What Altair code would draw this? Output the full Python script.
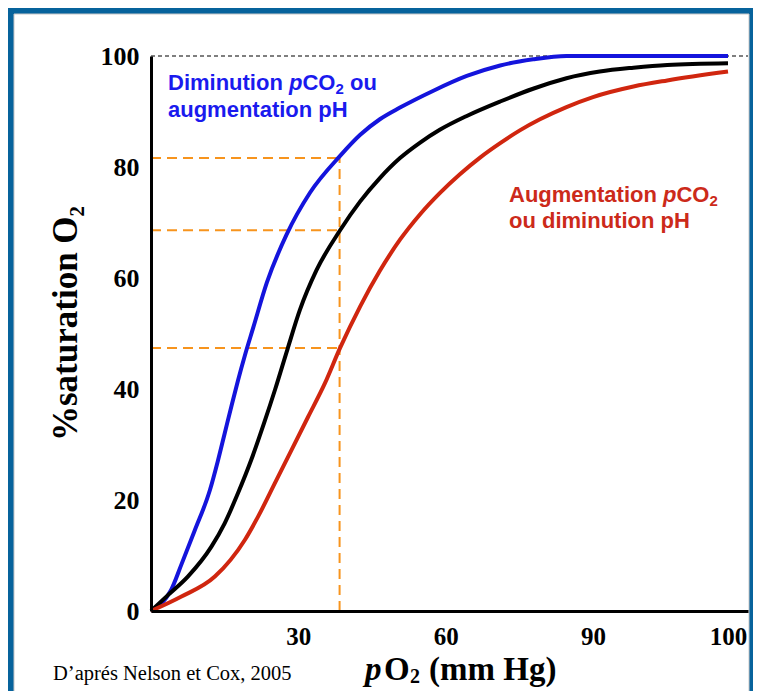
import altair as alt
import pandas as pd

# ---------------- data ----------------
series_names = ["Diminution pCO2 / augmentation pH", "Référence", "Augmentation pCO2 / diminution pH"]
series_colors = ["#1414dc", "#000000", "#d0260f"]

blue_x = [0, 2.0, 4.1, 6.2, 8.9, 12.0, 13.6, 15.0, 16.4, 17.7, 19.1, 20.8, 23.6, 27.6, 32.4,
          38.5, 42.6, 46.6, 50.7, 57.4, 64.3, 71.1, 77.8, 84.6, 90, 95, 100]
blue_y = [0, 1.2, 3.8, 8.4, 14.5, 21.8, 27.0, 32.0, 37.0, 41.5, 46.0, 51.0, 59.2, 67.8, 75.4,
          82.0, 85.8, 88.6, 90.7, 93.7, 96.4, 98.3, 99.4, 100, 100, 100, 100]

black_x = [0, 3.5, 7.5, 12.3, 15.0, 17.7, 20.4, 23.0, 25.3, 27.8, 30.3, 33.7, 38.5, 42.6, 46.6,
           50.7, 54.8, 58.8, 64.3, 71.1, 77.8, 84.6, 90.5, 93.0, 95.5, 100]
black_y = [0, 2.9, 6.2, 11.6, 15.8, 21.2, 27.2, 33.8, 40.0, 47.2, 54.2, 61.4, 68.6, 73.8, 78.0,
           81.6, 84.4, 86.7, 89.2, 91.8, 94.1, 96.0, 97.2, 97.9, 98.4, 98.7]

red_x = [0, 6.2, 13.0, 19.1, 21.8, 25.2, 28.6, 32.0, 35.4, 38.5, 42.6, 46.6, 50.7, 54.8, 58.8,
         62.9, 67.0, 71.1, 75.1, 79.2, 84.6, 90.0, 93.0, 95.5, 100]
red_y = [0, 2.6, 6.2, 12.8, 17.0, 23.0, 29.0, 35.0, 41.0, 47.4, 54.9, 61.3, 66.9, 71.5, 75.3,
         78.7, 81.7, 84.3, 86.6, 88.6, 90.8, 92.6, 94.5, 95.6, 97.2]

x_ticks = [30, 60, 90, 100]
y_ticks = [0, 20, 40, 60, 80, 100]

guide_po2 = 38.4                   # vertical orange dashed line
guide_levels = [81.6, 68.6, 47.4]  # horizontal orange dashed lines
top_level = 100                    # dotted line at 100 %

# the original axis is broken: 90 -> 100 is drawn much wider than 0 -> 90
x_domain = [0, 90, 100, 101.48]

blue_note_pos = (3.46, [93.9, 89.0])
red_note_pos = (72.9, [73.7, 69.0])

# ---------------- layout ----------------
W, H = 597, 555
x_range = [0, 442, 577, W]

SANS = "Liberation Sans"
SERIF = "Liberation Serif"
BLUE_TXT = "#1a1aee"
RED_TXT = "#cc2a1a"
ORANGE = "#f7941d"

xs = alt.Scale(domain=x_domain, range=x_range)
ys = alt.Scale(domain=[0, 100], nice=False, zero=False)

x_axis = alt.Axis(values=x_ticks, title=None, grid=False, ticks=False, domainColor="black",
                  domainWidth=3, labelFont=SERIF, labelFontWeight="bold", labelFontSize=25,
                  labelColor="black", labelPadding=13, labelFlush=False, labelOverlap=False,
                  zindex=1)
y_axis = alt.Axis(values=y_ticks, title=None, grid=False, ticks=False, domainColor="black",
                  domainWidth=3, labelFont=SERIF, labelFontWeight="bold", labelFontSize=26,
                  labelColor="black", labelPadding=12, labelFlush=False, labelOverlap=False,
                  zindex=1)


def X(field="pO2"):
    return alt.X(f"{field}:Q", scale=xs, axis=x_axis)


def Y(field="sat"):
    return alt.Y(f"{field}:Q", scale=ys, axis=y_axis)


curves = pd.concat([
    pd.DataFrame({"pO2": cx, "sat": cy, "courbe": name, "ordre": range(len(cx))})
    for cx, cy, name in [(blue_x, blue_y, series_names[0]),
                         (black_x, black_y, series_names[1]),
                         (red_x, red_y, series_names[2])]
])

one = alt.Data(values=[{"k": 0}])

frame = alt.Chart(one).mark_rect(color="white", stroke="#c8c8c8", strokeWidth=1).encode(
    x=alt.value(-137), x2=alt.value(W + 1), y=alt.value(-42), y2=alt.value(H + 200)
)

top_line = alt.Chart(pd.DataFrame({"pO2": [0], "pO2_end": [x_domain[-1]], "sat": [top_level]})).mark_rule(
    color="black", strokeWidth=1.2, strokeDash=[4, 3]
).encode(x=X(), x2="pO2_end:Q", y=Y())

vguide = alt.Chart(pd.DataFrame({"pO2": [guide_po2], "sat": [0], "sat_end": [max(guide_levels)]})).mark_rule(
    color=ORANGE, strokeWidth=2, strokeDash=[10, 6]
).encode(x=X(), y=Y(), y2="sat_end:Q")

hguide = alt.Chart(pd.DataFrame({"pO2": [0] * 3, "pO2_end": [guide_po2] * 3, "sat": guide_levels})).mark_rule(
    color=ORANGE, strokeWidth=2, strokeDash=[10, 6]
).encode(x=X(), x2="pO2_end:Q", y=Y())

lines = alt.Chart(curves).mark_line(strokeWidth=4, interpolate="monotone").encode(
    x=X(), y=Y(),
    color=alt.Color("courbe:N", scale=alt.Scale(domain=series_names, range=series_colors), legend=None),
    order="ordre:Q",
)


def seg(text, x, y, color, size, dx=0, dy=0, font=SANS, weight="bold", style="normal",
        angle=0, pixel=False):
    m = alt.Chart(pd.DataFrame({"pO2": [x], "sat": [y], "t": [text]})).mark_text(
        align="left", baseline="alphabetic", font=font, fontSize=size, fontWeight=weight,
        fontStyle=style, color=color, dx=dx, dy=dy, angle=angle
    )
    if pixel:
        return m.encode(x=alt.value(x), y=alt.value(y), text="t:N")
    return m.encode(x=X(), y=Y(), text="t:N")


FS = 22
SUB = 15
bx0, (by1, by2) = blue_note_pos
rx0, (ry1, ry2) = red_note_pos
texts = [
    # blue annotation
    seg("Diminution", bx0, by1, BLUE_TXT, FS),
    seg("p", bx0, by1, BLUE_TXT, FS, dx=121, style="italic"),
    seg("CO", bx0, by1, BLUE_TXT, FS, dx=134.4),
    seg("2", bx0, by1, BLUE_TXT, SUB, dx=167.4, dy=4),
    seg("ou", bx0, by1, BLUE_TXT, FS, dx=182),
    seg("augmentation pH", bx0, by2, BLUE_TXT, FS),
    # red annotation
    seg("Augmentation", rx0, ry1, RED_TXT, FS),
    seg("p", rx0, ry1, RED_TXT, FS, dx=154, style="italic"),
    seg("CO", rx0, ry1, RED_TXT, FS, dx=167.4),
    seg("2", rx0, ry1, RED_TXT, SUB, dx=200.4, dy=4),
    seg("ou diminution pH", rx0, ry2, RED_TXT, FS),
    # y title (rotated)
    seg("%saturation O", -74, 385, "black", 35, font=SERIF, angle=270, pixel=True),
    seg("2", -74, 385, "black", 21, dx=224.5, dy=7, font=SERIF, angle=270, pixel=True),
    # x title
    seg("p", 214, 624, "black", 33, font=SERIF, style="italic", pixel=True),
    seg("O", 214, 624, "black", 33, dx=19, font=SERIF, pixel=True),
    seg("2", 214, 624, "black", 20, dx=45, dy=3, font=SERIF, pixel=True),
    seg("(mm Hg)", 214, 624, "black", 33, dx=64, font=SERIF, pixel=True),
    # source
    seg("D\u2019aprés Nelson et Cox, 2005", -98, 624, "black", 20.5, font=SERIF, weight="normal", pixel=True),
]

chart = alt.layer(frame, top_line, vguide, hguide, lines, *texts).properties(
    width=W, height=H,
    padding={"left": 143, "top": 48, "right": 5, "bottom": 80},
    autosize=alt.AutoSizeParams(type="none"),
    background="#07639c",
).configure_view(stroke=None)

chart.save("out.html", embed_options={"renderer": "svg", "actions": False})
